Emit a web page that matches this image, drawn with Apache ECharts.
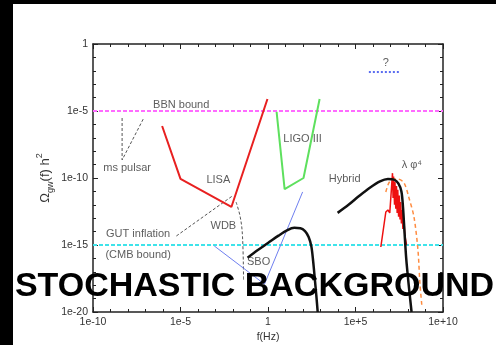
<!DOCTYPE html>
<html>
<head>
<meta charset="utf-8">
<script src="https://cdn.jsdelivr.net/npm/echarts@6/dist/echarts.min.js"></script>
<style>
  html, body { margin: 0; padding: 0; background: #000; width: 496px; height: 345px; overflow: hidden; }
  #chart { position: absolute; left: 13px; top: 4px; width: 483px; height: 341px; }
</style>
</head>
<body>
<div id="chart"></div>
<script>
// Gravitational-wave background: sensitivity curves and predicted spectra.
// Frequencies in Hz, energy density Omega_gw(f) h^2.

const xTickExponents = [-10, -5, 0, 5, 10];
const yTickExponents = [-20, -15, -10, -5, 0];

// Bounds
const bbnF = [1e-10, 1e10];
const bbnOmega = [1e-5, 1e-5];
const cmbF = [1e-10, 1e10];
const cmbOmega = [1e-15, 1e-15];

// Millisecond pulsar timing limit
const pulsarF = [4.6e-9, 4.6e-9, 7.4e-8];
const pulsarOmega = [3.0e-6, 2.2e-9, 2.5e-6];

// LISA sensitivity
const lisaF = [8.9e-7, 1.0e-5, 8.1e-3, 0.93];
const lisaOmega = [7.6e-7, 8.5e-11, 6.9e-13, 7.9e-5];

// LIGO III sensitivity
const ligoF = [3.1, 8.9, 107, 890];
const ligoOmega = [8.5e-6, 1.5e-11, 1.0e-10, 7.9e-5];

// GUT inflation
const gutF = [5.8e-6, 9.3e-3];
const gutOmega = [4.7e-15, 4.6e-12];

// White dwarf binaries
const wdbF = [1.5e-2, 2.6e-2, 3.5e-2, 4.0e-2];
const wdbOmega = [1.6e-12, 1.2e-13, 4.0e-15, 2.5e-18];

// Big Bang Observer
const sboF = [8.5e-4, 0.63, 95];
const sboOmega = [8.5e-16, 1.2e-18, 9.1e-12];

// Unknown sources
const unknownF = [5.8e5, 3.0e7];
const unknownOmega = [8.1e-3, 8.1e-3];

// Low-frequency spectrum
const lowSpecF = [6.8e-2, 0.25, 1.0, 4.0, 13, 32, 71, 130, 210, 300, 380, 470, 580, 690];
const lowSpecOmega = [1.1e-16, 4.0e-16, 1.4e-15, 5.0e-15, 1.3e-14, 1.9e-14, 1.8e-14, 1.1e-14,
                      4.0e-15, 7.9e-16, 6.3e-17, 3.2e-18, 1.6e-19, 1.0e-20];

// Hybrid inflation
const hybridF = [9.5e3, 4.0e4, 1.6e5, 6.3e5, 2.5e6, 7.1e6, 1.6e7, 2.8e7, 4.2e7, 5.2e7, 6.3e7, 7.9e7, 1.1e8, 1.6e8];
const hybridOmega = [2.5e-13, 1.0e-12, 4.5e-12, 1.8e-11, 5.6e-11, 8.5e-11, 7.6e-11, 4.0e-11,
                     1.0e-11, 6.3e-13, 1.0e-14, 1.0e-16, 1.0e-18, 1.0e-20];

// lambda phi^4 preheating
const lambdaF = [5.4e6, 8.1e6, 1.4e7, 2.6e7, 5.9e7, 1.1e8, 2.2e8, 3.7e8, 4.8e8, 6.3e8];
const lambdaOmega = [9.1e-12, 4.3e-11, 7.9e-11, 8.5e-11, 4.3e-11, 3.8e-12, 1.2e-13, 4.3e-16, 1.4e-18, 2.3e-20];

// Lattice spectrum (oscillating)
const latticeF = [2.8e6, 5.4e6, 7.1e6, 9.1e6, 1.3e7, 1.4e7, 1.5e7, 1.7e7, 1.8e7, 2.0e7, 2.2e7, 2.4e7,
                  2.6e7, 2.9e7, 3.2e7, 3.5e7, 3.8e7, 4.2e7, 4.6e7, 5.1e7, 5.8e7, 6.6e7, 7.6e7, 8.3e7];
const latticeOmega = [7.1e-16, 2.9e-13, 4.1e-13, 2.5e-13, 2.3e-10, 3.2e-12, 1.3e-10, 1.0e-12, 5.0e-11,
                      5.0e-13, 2.5e-11, 2.5e-13, 1.3e-11, 1.3e-13, 5.0e-12, 7.9e-14, 1.6e-12, 4.0e-14,
                      4.0e-13, 1.6e-14, 1.0e-13, 5.0e-15, 6.3e-15, 1.0e-15];

// Annotation texts and their anchor points (f, Omega)
const noteTexts = ['BBN bound', 'ms pulsar', 'LISA', 'GUT inflation', '(CMB bound)', 'WDB',
                   'LIGO III', 'SBO', 'Hybrid', 'λ φ⁴', '?'];
const noteF = [1.1e-5, 8.9e-9, 1.45e-3, 3.8e-8, 3.8e-8, 2.8e-3, 95, 0.29, 2.4e4, 1.66e8, 5.4e6];
const noteOmega = [2.8e-5, 5.6e-10, 7.1e-11, 6.6e-15, 1.8e-16, 2.6e-14, 8.1e-8, 5.4e-17, 8.5e-11, 9.3e-10, 3.8e-2];

const toXY = (fs, os) => fs.map((f, i) => [Math.log10(f), Math.log10(os[i])]);

function expLabel(v) {
  if (v === 0) return '1';
  return '1e' + (v > 0 ? '+' : '') + v;
}

const frameColor = '#222';
const fontFamily = '"Liberation Sans", Arial, sans-serif';

function lineSeries(fs, os, color, width, type, smooth) {
  return {
    type: 'line',
    data: toXY(fs, os),
    showSymbol: false,
    symbol: 'none',
    smooth: smooth || false,
    lineStyle: { color: color, width: width, type: type || 'solid' },
    silent: true,
    z: 3
  };
}

function axisBase(min, max, position, withLabels) {
  return {
    type: 'value',
    min: min,
    max: max,
    interval: 5,
    position: position,
    axisLine: { show: true, onZero: false, lineStyle: { color: frameColor, width: 1.5 } },
    axisTick: { show: true, inside: true, length: 5, lineStyle: { color: frameColor, width: 1 } },
    minorTick: { show: true, splitNumber: 5, length: 3, lineStyle: { color: frameColor, width: 1 } },
    splitLine: { show: false },
    minorSplitLine: { show: false },
    axisLabel: {
      show: withLabels,
      formatter: expLabel,
      color: '#333',
      fontSize: 10.5,
      fontFamily: fontFamily,
      margin: 5
    }
  };
}

const chart = echarts.init(document.getElementById('chart'));

const xBottom = Object.assign(axisBase(-10, 10, 'bottom', true), {
  name: 'f(Hz)',
  nameLocation: 'middle',
  nameGap: 20,
  nameMoveOverlap: false,
  nameTextStyle: { color: '#333', fontSize: 10.5, fontFamily: fontFamily }
});
const xTop = axisBase(-10, 10, 'top', false);
const yLeft = Object.assign(axisBase(-20, 0, 'left', true), {
  name: '{a|Ω}{b|gw}{a|(f) h}{c|2}',
  nameLocation: 'middle',
  nameRotate: 90,
  nameGap: 38,
  nameMoveOverlap: false,
  nameTextStyle: {
    color: '#333',
    fontFamily: fontFamily,
    rich: {
      a: { fontSize: 13, lineHeight: 20, color: '#333', fontFamily: fontFamily, verticalAlign: 'middle' },
      b: { fontSize: 9, lineHeight: 20, color: '#333', fontFamily: fontFamily, verticalAlign: 'bottom' },
      c: { fontSize: 9, lineHeight: 20, color: '#333', fontFamily: fontFamily, verticalAlign: 'top' }
    }
  }
});
const yRight = axisBase(-20, 0, 'right', false);

const series = [
  lineSeries(bbnF, bbnOmega, '#ff6bff', 2, [4, 2]),
  lineSeries(cmbF, cmbOmega, '#3fe3ea', 2, [4, 2]),
  lineSeries(pulsarF, pulsarOmega, '#555', 1, [3, 2]),
  lineSeries(gutF, gutOmega, '#555', 1, [3, 2]),
  lineSeries(wdbF, wdbOmega, '#555', 1, [3, 2], 0.4),
  lineSeries(lisaF, lisaOmega, '#e82020', 2),
  lineSeries(ligoF, ligoOmega, '#5ee05e', 2),
  lineSeries(sboF, sboOmega, '#6f7ff0', 1),
  lineSeries(unknownF, unknownOmega, '#5a6cf0', 2, [2, 2]),
  lineSeries(lowSpecF, lowSpecOmega, '#111', 2.5, 'solid', 0.3),
  lineSeries(latticeF, latticeOmega, '#ee1010', 1.5),
  lineSeries(lambdaF, lambdaOmega, '#ff8c40', 1.5, [4, 3], 0.3),
  lineSeries(hybridF, hybridOmega, '#111', 2.5, 'solid', 0.3),
  {
    type: 'scatter',
    symbolSize: 2,
    itemStyle: { color: 'rgba(255,255,255,0)' },
    silent: true,
    z: 4,
    data: noteTexts.map((t, i) => ({ name: t, value: [Math.log10(noteF[i]), Math.log10(noteOmega[i])] })),
    label: {
      show: true,
      position: 'inside',
      formatter: p => p.name,
      color: '#333',
      fontSize: 11,
      fontFamily: fontFamily
    },
    labelLayout: { hideOverlap: false }
  }
];

chart.setOption({
  backgroundColor: '#fff',
  animation: false,
  grid: { left: 80, top: 40, right: 53, bottom: 33, containLabel: false, outerBoundsMode: 'none' },
  xAxis: [xBottom, xTop],
  yAxis: [yLeft, yRight],
  series: series,
  graphic: [
    {
      type: 'text',
      left: 'center',
      top: 266,
      z: 100,
      style: {
        text: 'STOCHASTIC BACKGROUND',
        fill: '#000',
        font: 'bold 34px "Liberation Sans", Arial, sans-serif'
      }
    }
  ]
});
</script>
</body>
</html>
